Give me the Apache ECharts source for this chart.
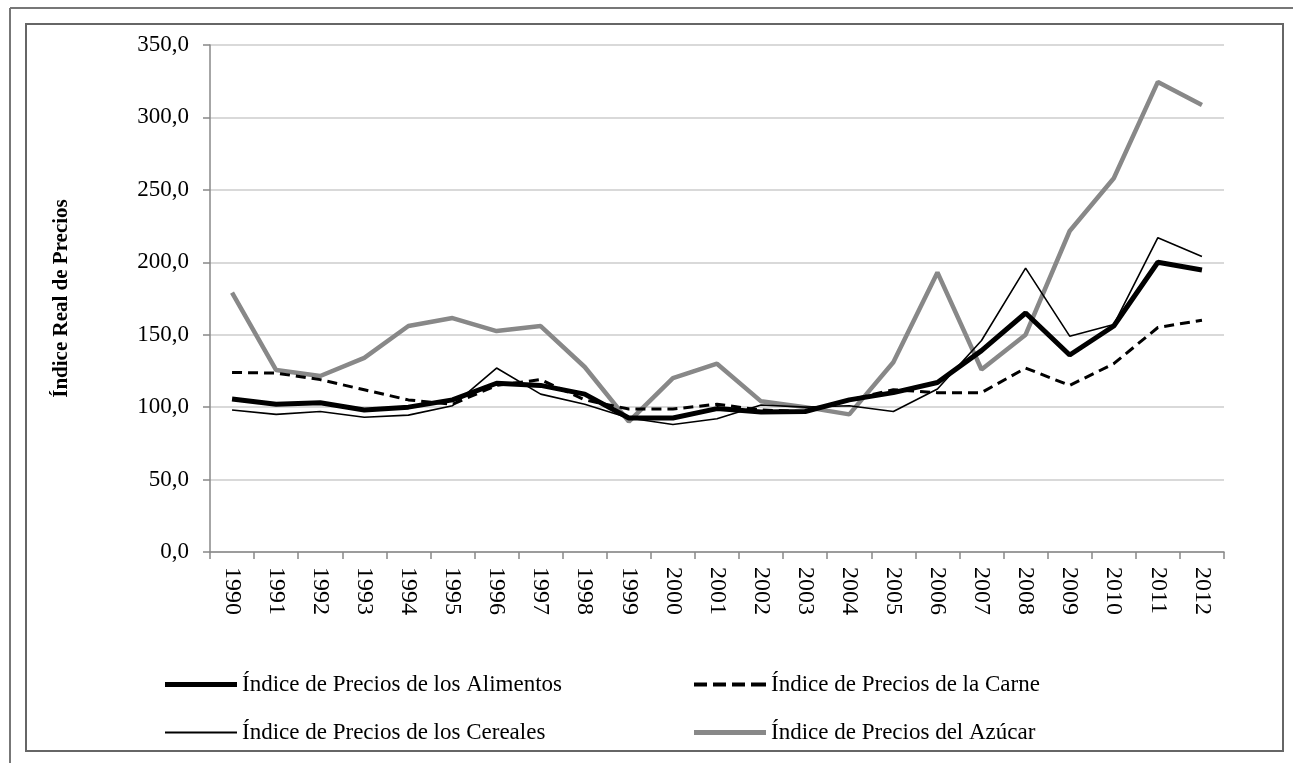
<!DOCTYPE html>
<html>
<head>
<meta charset="utf-8">
<script src="https://cdn.jsdelivr.net/npm/echarts@6/dist/echarts.min.js"></script>
<style>
  html, body { margin: 0; padding: 0; background: #fff; }
  #chart { width: 1293px; height: 763px; }
</style>
</head>
<body>
<div id="chart"></div>
<script>
  // años
  var years = ['1990','1991','1992','1993','1994','1995','1996','1997','1998','1999','2000',
    '2001','2002','2003','2004','2005','2006','2007','2008','2009','2010','2011','2012']
  // índices reales de precios
  var alimentos = [105.6, 102, 103, 98, 100, 105, 116.5, 115, 109, 92.5, 92.5, 99, 96.6, 97, 105, 110, 117, 139, 165, 136, 156, 200, 194.7]
  var carne = [124, 123.5, 119, 112, 105, 102, 115, 119, 105, 98.7, 98.7, 102, 98, 97, 105, 112, 110, 110, 127, 115, 130, 155, 160]
  var cereales = [98, 95, 97, 93, 94.5, 101, 127, 109, 102, 92.5, 88, 92, 101.5, 100, 101, 97, 112.5, 146, 196, 149, 157, 217, 204]
  var azucar = [179, 125.6, 121.5, 134, 156, 161.5, 152.5, 156, 127.7, 90, 120, 130, 104, 100, 95, 131, 193, 126, 150, 221.6, 258, 324.5, 308.5]
  // marcas del eje y
  var yTicks = [0, 50, 100, 150, 200, 250, 300, 350]

  var serif = '"Liberation Serif", "DejaVu Serif", serif'
  var chart = echarts.init(document.getElementById('chart'))

  var legendText = { fontFamily: serif, fontSize: 23, color: '#000' }
  // iconos de leyenda (línea sólida gruesa, fina, discontinua)
  var iconThick = 'path://M0,0h72v5h-72z'
  var iconThin = 'path://M0,0h72v2h-72z'
  var iconDash = 'path://M0,0h13v4h-13z M19,0h13v4h-13z M38,0h13v4h-13z M57,0h15v4h-15z'

  var option = {
    backgroundColor: '#fff',
    animation: false,
    graphic: [
      // marco exterior (solo arriba e izquierda)
      { type: 'line', shape: { x1: 10, y1: 8, x2: 1293, y2: 8 }, style: { stroke: '#777', lineWidth: 2 } },
      { type: 'line', shape: { x1: 10, y1: 8, x2: 10, y2: 763 }, style: { stroke: '#777', lineWidth: 2 } },
      // marco interior
      { type: 'rect', shape: { x: 26, y: 24, width: 1257, height: 727 }, style: { fill: null, stroke: '#666', lineWidth: 2 } }
    ],
    grid: { left: 210, top: 45, width: 1014, height: 507 },
    legend: [
      {
        orient: 'vertical', left: 165, top: 673, padding: 0, itemWidth: 72, itemHeight: 30, itemGap: 25,
        textStyle: legendText,
        data: [
          { name: 'Índice de Precios de los Alimentos', icon: iconThick, itemStyle: { color: '#000' } },
          { name: 'Índice de Precios de los Cereales', icon: iconThin, itemStyle: { color: '#000' } }
        ]
      },
      {
        orient: 'vertical', left: 694, top: 673, padding: 0, itemWidth: 72, itemHeight: 30, itemGap: 25,
        textStyle: legendText,
        data: [
          { name: 'Índice de Precios de la Carne', icon: iconDash, itemStyle: { color: '#000' } },
          { name: 'Índice de Precios del Azúcar', icon: iconThick, itemStyle: { color: '#888' } }
        ]
      }
    ],
    xAxis: {
      type: 'category',
      data: years,
      boundaryGap: true,
      axisLine: { lineStyle: { color: '#888', width: 1.5 } },
      axisTick: { show: true, length: 7, lineStyle: { color: '#888', width: 1.5 } },
      axisLabel: { rotate: -90, margin: 15, fontFamily: serif, fontSize: 24, color: '#000' }
    },
    yAxis: {
      type: 'value',
      min: yTicks[0],
      max: yTicks[yTicks.length - 1],
      interval: 50,
      name: 'Índice Real de Precios',
      nameLocation: 'middle',
      nameRotate: 90,
      nameGap: 138,
      nameTextStyle: { fontFamily: serif, fontSize: 21, fontWeight: 'bold', color: '#000' },
      axisLine: { show: true, lineStyle: { color: '#888', width: 1.5 } },
      axisTick: { show: true, length: 7, lineStyle: { color: '#888', width: 1.5 } },
      splitLine: { lineStyle: { color: '#d9d9d9', width: 2 } },
      axisLabel: {
        margin: 21, fontFamily: serif, fontSize: 23, color: '#000',
        formatter: function (v) { return v.toFixed(1).replace('.', ',') }
      }
    },
    series: [
      {
        name: 'Índice de Precios de los Alimentos', type: 'line', data: alimentos,
        symbol: 'none', z: 4,
        lineStyle: { color: '#000', width: 5 }, itemStyle: { color: '#000' }
      },
      {
        name: 'Índice de Precios de la Carne', type: 'line', data: carne,
        symbol: 'none', z: 3,
        lineStyle: { color: '#000', width: 3, type: [10, 6] }, itemStyle: { color: '#000' }
      },
      {
        name: 'Índice de Precios de los Cereales', type: 'line', data: cereales,
        symbol: 'none', z: 5,
        lineStyle: { color: '#000', width: 1.6 }, itemStyle: { color: '#000' }
      },
      {
        name: 'Índice de Precios del Azúcar', type: 'line', data: azucar,
        symbol: 'none', z: 2,
        lineStyle: { color: '#888', width: 4.5 }, itemStyle: { color: '#888' }
      }
    ]
  }
  chart.setOption(option)
</script>
</body>
</html>
